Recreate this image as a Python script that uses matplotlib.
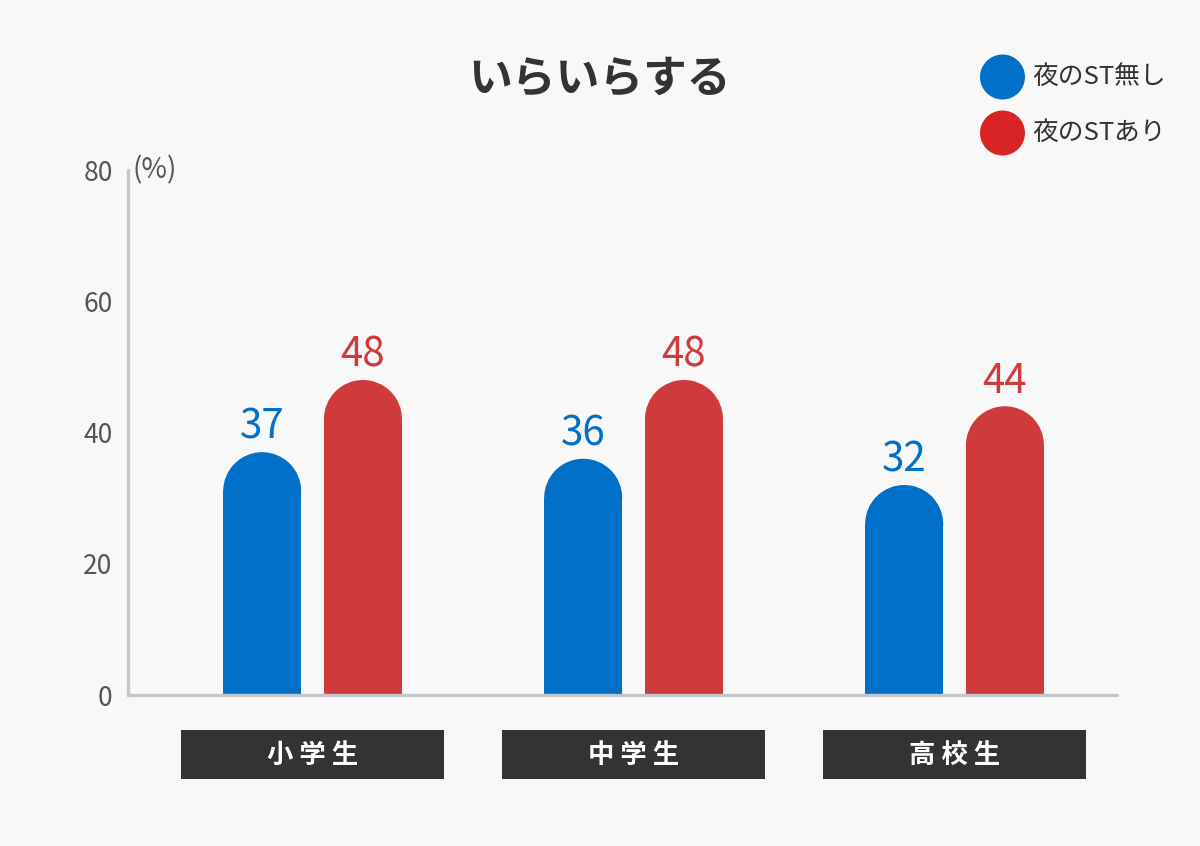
import matplotlib
matplotlib.use("Agg")
import matplotlib.pyplot as plt
from matplotlib.patches import Rectangle, Ellipse, Circle
from matplotlib.transforms import blended_transform_factory

plt.rcParams['font.family'] = ['Noto Sans CJK JP', 'DejaVu Sans']

# data
categories = ['小学生', '中学生', '高校生']
series_names = ['夜のST無し', '夜のSTあり']
no_st = [37, 36, 32]
with_st = [48, 48, 44]
yticks = [0, 20, 40, 60, 80]

bar_colors = ['#0070c9', '#cf3a3c']
legend_colors = ['#0070c9', '#d82424']
bg = '#f8f8f8'

W, H = 1200, 846
fig = plt.figure(figsize=(W / 100, H / 100), dpi=100, facecolor=bg)
ax_l, ax_r, ax_t, ax_b = 128, 1117, 170, 695
ax = fig.add_axes([ax_l / W, 1 - ax_b / H, (ax_r - ax_l) / W, (ax_b - ax_t) / H])
ax.set_facecolor(bg)
ax.set_xlim(-0.575, 2.506)
ax.set_ylim(0, 80)

for s in ['top', 'right']:
    ax.spines[s].set_visible(False)
for s in ['left', 'bottom']:
    ax.spines[s].set_color('#c3c7cb')
    ax.spines[s].set_linewidth(2.4)
    ax.spines[s].set_capstyle('round')
ax.set_xticks([])
ax.set_yticks(yticks)
ax.set_yticklabels([str(t) for t in yticks], fontsize=19, color='#555555')
ax.tick_params(axis='y', length=0, pad=11)

ax.text(0.005, 80, '(%)', transform=blended_transform_factory(ax.transAxes, ax.transData),
        fontsize=20, color='#555555', ha='left', va='center')

# rounded-top bars
bw = 0.243
off = 0.157
px_per_y = (ax_b - ax_t) / 80.0
px_per_x = (ax_r - ax_l) / (2.506 + 0.575)
ry = (bw / 2 * px_per_x) / px_per_y

for i, cat in enumerate(categories):
    for j, vals in enumerate([no_st, with_st]):
        x = i + (j * 2 - 1) * off
        v = vals[i]
        ax.add_patch(Rectangle((x - bw / 2, 0), bw, v - ry, color=bar_colors[j], lw=0))
        ax.add_patch(Ellipse((x, v - ry), bw, 2 * ry, color=bar_colors[j], lw=0))
        ax.text(x, v + 0.7, str(v), ha='center', va='bottom', fontsize=29,
                color=bar_colors[j])

# category boxes
bt = blended_transform_factory(ax.transData, fig.transFigure)
box_w = 263 / px_per_x
for i, cat in enumerate(categories):
    ax.add_patch(Rectangle((i - box_w / 2, 1 - 779 / H), box_w, 49 / H, transform=bt,
                           color='#333333', lw=0, clip_on=False))
    ax.text(i, 1 - 755 / H, ' '.join(cat), transform=bt, ha='center', va='center',
            fontsize=19, fontweight='bold', color='white')

# title
fig.text(600 / W, 1 - 79 / H, 'いらいらする', ha='center', va='center',
         fontsize=31.5, fontweight='bold', color='#333333')

# legend
for k, name in enumerate(series_names):
    cy = [77, 133][k]
    fig.patches.append(Circle((1002.5, H - cy), 22.5, transform=None,
                              color=legend_colors[k], lw=0))
    fig.text(1032 / W, 1 - cy / H, name, ha='left', va='center', fontsize=18.5,
             color='#333333')

fig.savefig('out.png', dpi=100, facecolor=bg)
